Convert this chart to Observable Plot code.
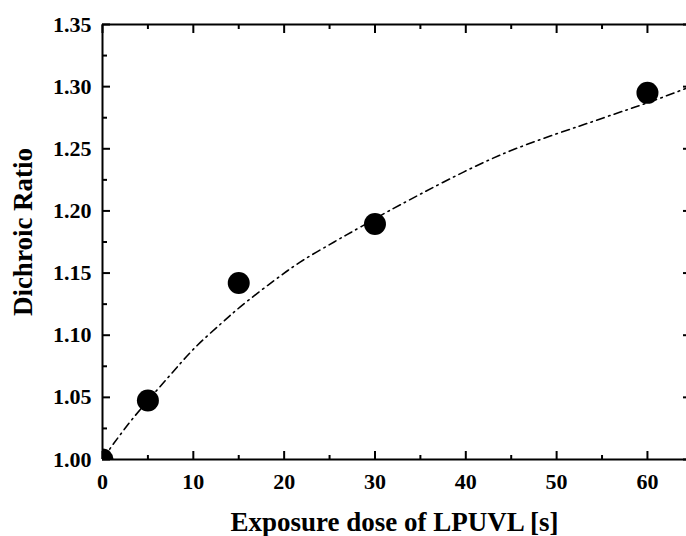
<!DOCTYPE html>
<html>
<head>
<meta charset="utf-8">
<script src="https://cdn.jsdelivr.net/npm/d3@7"></script>
<script src="https://cdn.jsdelivr.net/npm/@observablehq/plot@0.6"></script>
<style>
  html, body { margin: 0; padding: 0; background: #fff; }
  #chart svg { display: block; }
</style>
</head>
<body>
<div id="chart"></div>
<script>
// Measured data points
const doseSeconds = [0, 5, 15, 30, 60];
const dichroicRatio = [1.000, 1.0475, 1.142, 1.1895, 1.295];

// Fitted curve
const fitDose = [0, 1.25, 3.45, 7.1, 10.05, 13.0, 15.2, 18.9, 21.8, 25.5, 28.4, 32.8, 43.8, 55.2, 60, 64.4];
const fitRatio = [1.000, 1.013, 1.034, 1.065, 1.089, 1.109, 1.123, 1.144, 1.159, 1.175, 1.187, 1.205, 1.245, 1.275, 1.287, 1.299];

// Ticks
const xMajorTicks = [0, 10, 20, 30, 40, 50, 60];
const xMinorTicks = [5, 15, 25, 35, 45, 55];
const yMajorTicks = [1.00, 1.05, 1.10, 1.15, 1.20, 1.25, 1.30, 1.35];
const yMinorTicks = [1.025, 1.075, 1.125, 1.175, 1.225, 1.275, 1.325];

const xTitle = "Exposure dose of LPUVL [s]";
const yTitle = "Dichroic Ratio";

const points = doseSeconds.map((d, i) => ({x: d, y: dichroicRatio[i]}));
const fit = fitDose.map((d, i) => ({x: d, y: fitRatio[i]}));

const font = "'Liberation Serif', 'Times New Roman', serif";

const chart = Plot.plot({
  width: 686,
  height: 536,
  marginLeft: 102,
  marginRight: 0,
  marginTop: 24,
  marginBottom: 77,
  style: {fontFamily: font, fontWeight: "bold", fontSize: "22px", color: "#000", background: "#fff"},
  x: {domain: [0, 64.3], label: null},
  y: {domain: [1.0, 1.35], label: null},
  marks: [
    // fitted curve
    Plot.line(fit, {x: "x", y: "y", curve: "catmull-rom", stroke: "#000", strokeWidth: 1.6,
      strokeDasharray: "8,4.5,1.5,4.5", clip: true}),
    // data points
    Plot.dot(points, {x: "x", y: "y", r: 11, fill: "#000", stroke: "none", clip: true}),
    // axis lines
    Plot.ruleY([1.0], {stroke: "#000", strokeWidth: 2}),
    Plot.ruleY([1.35], {stroke: "#000", strokeWidth: 2}),
    Plot.ruleX([0], {stroke: "#000", strokeWidth: 2}),
    // bottom axis
    Plot.axisX(xMajorTicks, {anchor: "bottom", tickSize: 0, tickPadding: 14, fontSize: 22, fontWeight: "bold", tickFormat: d3.format("d")}),
    Plot.axisX(xMajorTicks, {anchor: "bottom", tickSize: -8, strokeWidth: 2, tickFormat: () => ""}),
    Plot.axisX(xMinorTicks, {anchor: "bottom", tickSize: -4, strokeWidth: 2, tickFormat: () => ""}),
    // top axis
    Plot.axisX(xMajorTicks, {anchor: "top", tickSize: -8, strokeWidth: 2, tickFormat: () => ""}),
    Plot.axisX(xMinorTicks, {anchor: "top", tickSize: -4, strokeWidth: 2, tickFormat: () => ""}),
    // left axis
    Plot.axisY(yMajorTicks, {anchor: "left", tickSize: 0, tickPadding: 11, fontSize: 22, fontWeight: "bold", tickFormat: d3.format(".2f")}),
    Plot.axisY(yMajorTicks, {anchor: "left", tickSize: -8, strokeWidth: 2, tickFormat: () => ""}),
    Plot.axisY(yMinorTicks, {anchor: "left", tickSize: -5, strokeWidth: 2, tickFormat: () => ""}),
    // right axis (at the cropped edge)
    Plot.axisY(yMajorTicks, {anchor: "right", tickSize: -4, strokeWidth: 2, tickFormat: () => ""}),
    // titles
    Plot.text([xTitle], {frameAnchor: "bottom", dy: 63, text: d => d, fontSize: 27, fontWeight: "bold",
      textAnchor: "middle", lineAnchor: "middle", fill: "#000"}),
    Plot.text([yTitle], {frameAnchor: "left", dx: -79, dy: -10, rotate: -90, text: d => d, fontSize: 27, fontWeight: "bold",
      textAnchor: "middle", lineAnchor: "middle", fill: "#000"})
  ]
});

document.getElementById("chart").appendChild(chart);
</script>
</body>
</html>
